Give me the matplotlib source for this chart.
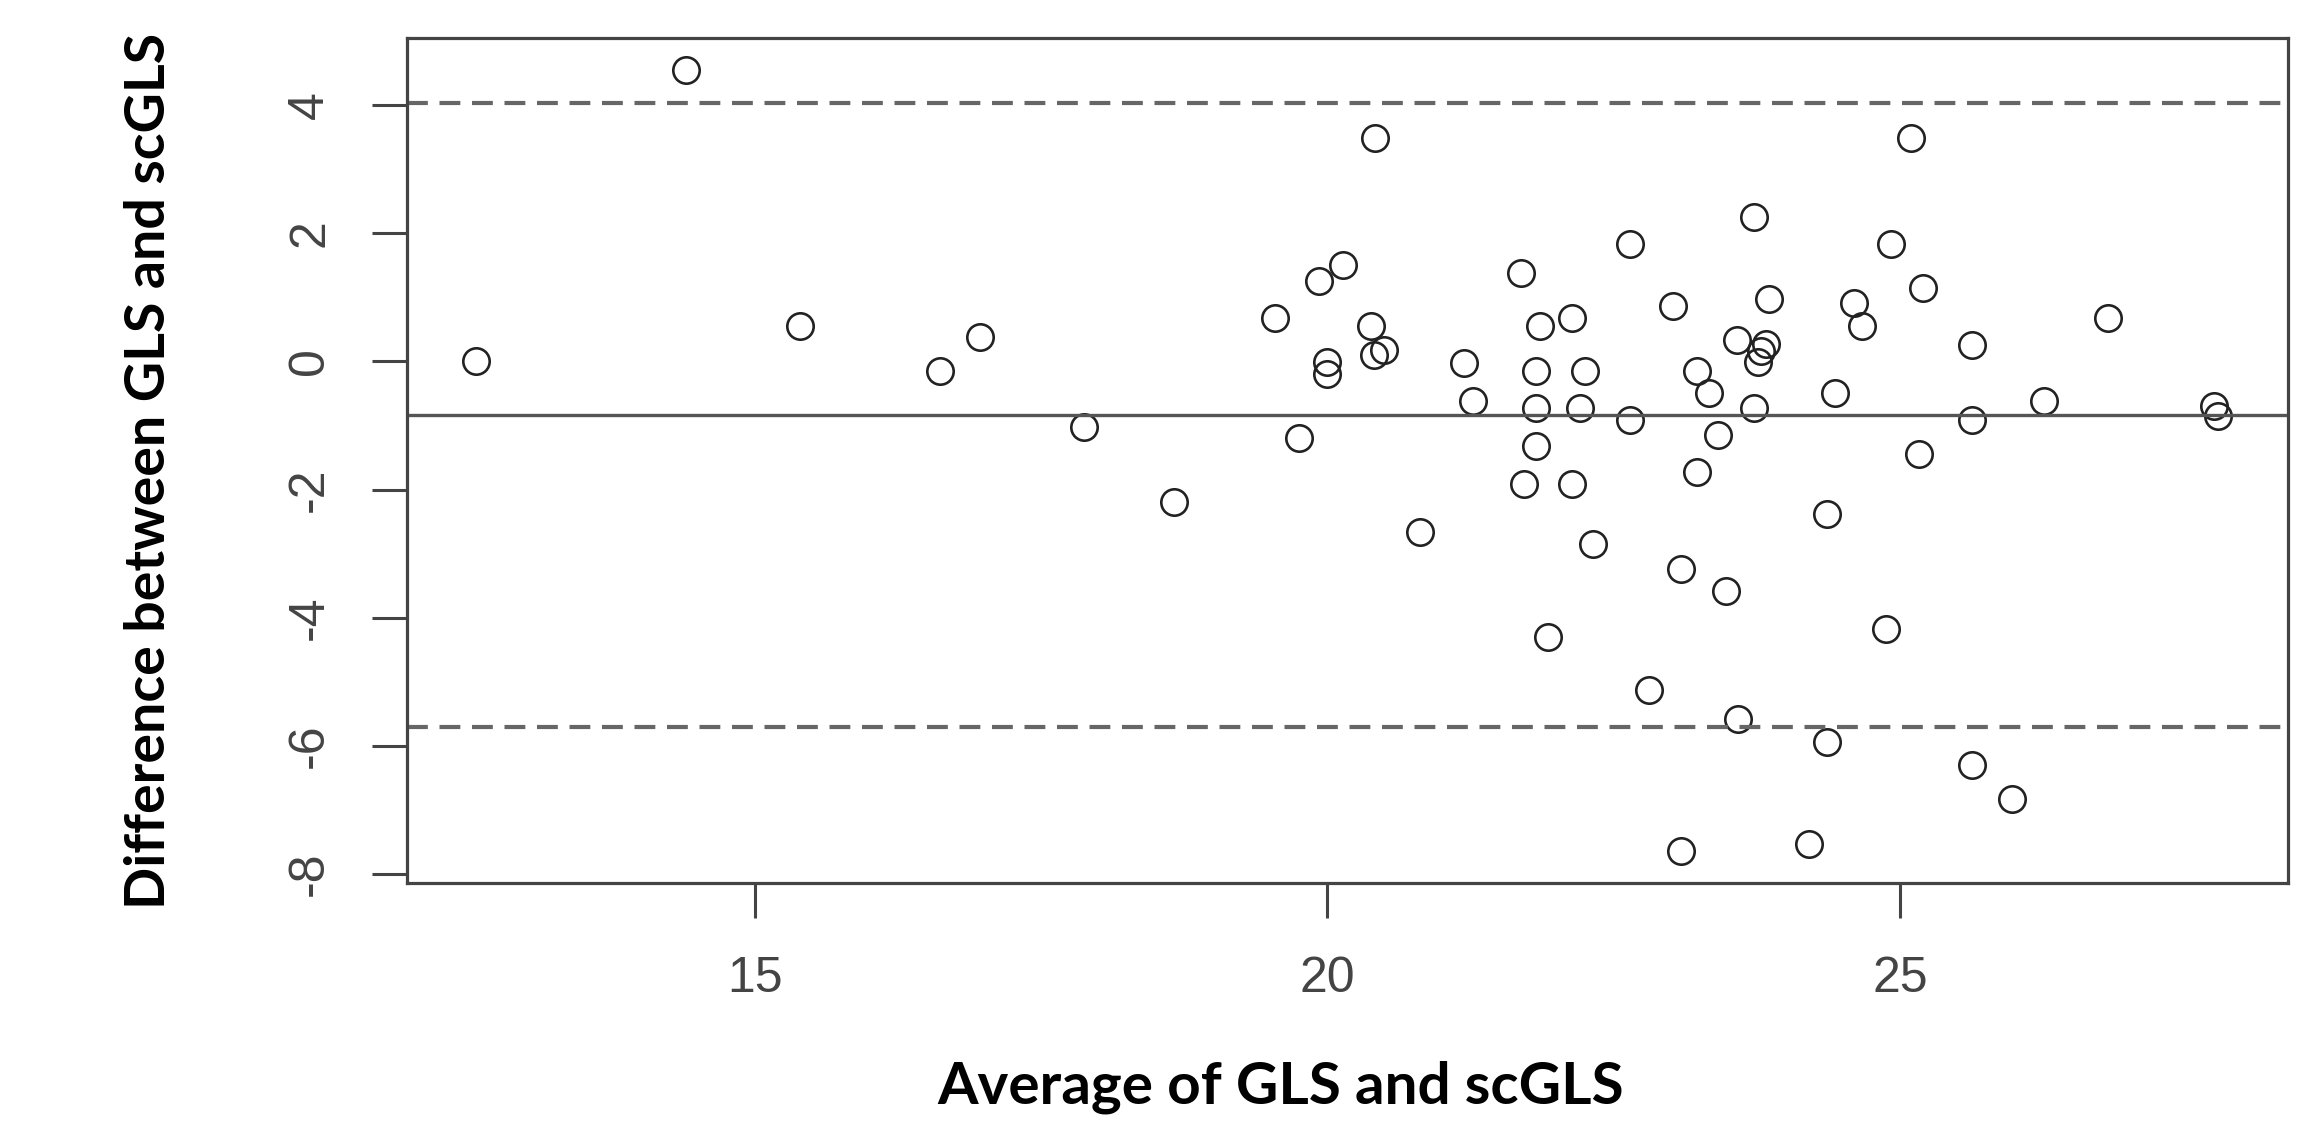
import matplotlib.pyplot as plt

plt.rcParams['axes.unicode_minus'] = False

# Bland-Altman: average vs difference of GLS and scGLS
avg = [12.57, 14.40, 15.40, 16.62, 16.97, 17.88, 18.66, 19.54, 19.75, 19.93,
       20.14, 20.42, 20.00, 20.00, 20.38, 20.41, 20.50, 20.81, 21.19, 21.27,
       21.69, 21.72, 21.82, 21.86, 21.82, 21.82, 21.93, 22.14, 22.14, 22.25,
       22.21, 22.32, 22.64, 22.64, 22.81, 23.02, 23.09, 23.09, 23.23, 23.23,
       23.33, 23.41, 23.48, 23.58, 23.59, 23.73, 23.73, 23.79, 23.76, 23.83,
       23.86, 24.21, 24.36, 24.36, 24.43, 24.60, 24.67, 24.88, 24.92, 25.10,
       25.17, 25.20, 25.63, 25.63, 25.63, 25.98, 26.26, 26.82, 27.74, 27.78]
diff = [0.00, 4.56, 0.56, -0.15, 0.38, -1.03, -2.20, 0.68, -1.20, 1.25,
        1.51, 3.49, -0.01, -0.19, 0.56, 0.10, 0.18, -2.67, -0.03, -0.61,
        1.38, -1.91, -0.15, 0.55, -0.73, -1.32, -4.31, 0.68, -1.91, -0.15,
        -0.73, -2.85, 1.84, -0.92, -5.13, 0.86, -3.24, -7.65, -0.15, -1.72,
        -0.50, -1.15, -3.59, 0.33, -5.59, 2.26, -0.73, 0.17, -0.01, 0.27,
        0.97, -7.54, -2.38, -5.94, -0.50, 0.92, 0.55, -4.18, 1.84, 3.49,
        -1.44, 1.15, 0.26, -0.92, -6.30, -6.84, -0.61, 0.68, -0.70, -0.85]
bias = -0.84
loa_upper = 4.03
loa_lower = -5.71

xticks = [15, 20, 25]
yticks = [-8, -6, -4, -2, 0, 2, 4]

fig = plt.figure(figsize=(23.04, 11.25), dpi=100)
ax = fig.add_axes([0.1765, 0.2155, 0.8165, 0.7505])

ax.plot(avg, diff, linestyle='none', marker='o', markersize=19,
        markerfacecolor='none', markeredgecolor='#222222', markeredgewidth=1.9)

ax.axhline(bias, color='#555555', lw=2.4)
ax.axhline(loa_upper, color='#666666', lw=3, linestyle=(0, (5, 2.8)))
ax.axhline(loa_lower, color='#666666', lw=3, linestyle=(0, (5, 2.8)))

# R-style 4% padding
xr = max(avg) - min(avg)
yr = max(diff) - min(diff)
ax.set_xlim(min(avg) - 0.04 * xr, max(avg) + 0.04 * xr)
ax.set_ylim(min(diff) - 0.04 * yr, max(diff) + 0.04 * yr)

ax.set_xticks(xticks)
ax.set_yticks(yticks)
ax.tick_params(length=25, width=2.2, color='#444444', labelcolor='#444444',
               labelsize=36, pad=28)
for lab in ax.get_xticklabels() + ax.get_yticklabels():
    lab.set_fontfamily('Liberation Sans')
for lab in ax.get_yticklabels():
    lab.set_rotation(90)
    lab.set_va('center')

for s in ax.spines.values():
    s.set_color('#444444')
    s.set_linewidth(2.3)

ax.set_xlabel('Average of GLS and scGLS', fontfamily='Lato', fontweight='bold',
              fontsize=42)
ax.set_ylabel('Difference between GLS and scGLS', fontfamily='Lato',
              fontweight='bold', fontsize=40)
ax.xaxis.label.set_va('center')
ax.yaxis.label.set_va('center')
ax.xaxis.set_label_coords(0.4645, -0.242)
ax.yaxis.set_label_coords(-0.137, 0.488)

fig.savefig('out.png', dpi=100, facecolor='white')
